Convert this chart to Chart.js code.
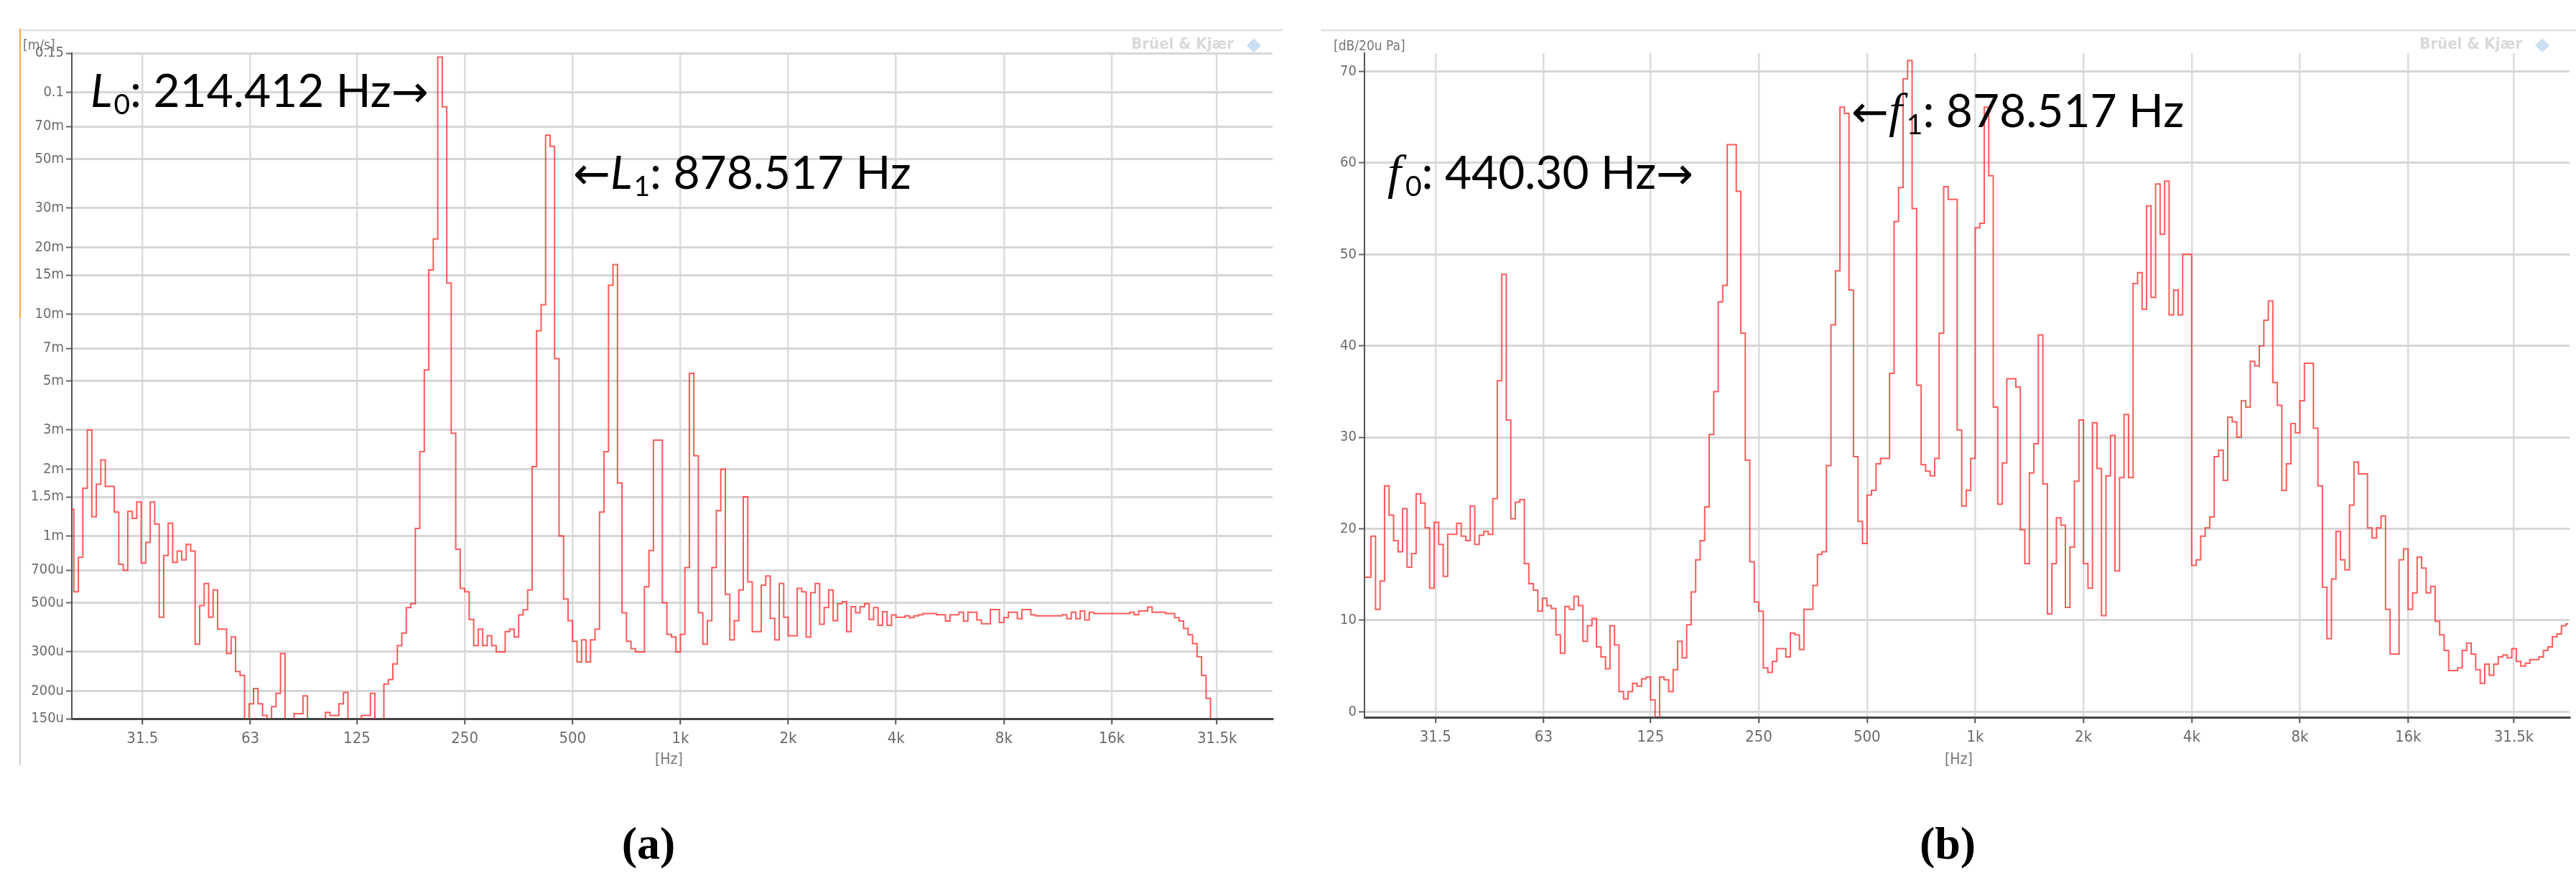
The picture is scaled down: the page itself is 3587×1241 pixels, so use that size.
<!DOCTYPE html>
<html>
<head>
<meta charset="utf-8">
<script src="https://cdn.jsdelivr.net/npm/chart.js@4.4.1/dist/chart.umd.min.js"></script>
<style>
  body { margin: 0; background: #fff; }
  #page { position: relative; width: 3587px; height: 1241px; overflow: hidden; background: #fff; }
  canvas { position: absolute; top: 0; }
  #chartA { left: 0; }
  #chartB { left: 1800px; }
  .caption { position: absolute; top: 1138px; line-height: 64px; font: bold 64px "Liberation Serif", serif; color: #000; transform: translateX(-50%); }
</style>
</head>
<body>
<div id="page">
  <canvas id="chartA" width="1790" height="1100"></canvas>
  <canvas id="chartB" width="1787" height="1100"></canvas>
  <div class="caption" style="left:903px">(a)</div>
  <div class="caption" style="left:2712px">(b)</div>
</div>
<script>
// x positions: 1/24-octave band centres of the analyser (20 Hz ... 44 kHz)
const bandCentres = [];
for (let k = -136; k < 132; k++) bandCentres.push(1000 * Math.pow(2, (k + 0.5) / 24));

const xTickValues = [31.5, 63, 125, 250, 500, 1000, 2000, 4000, 8000, 16000, 31500];
const xTickLabels = ["31.5", "63", "125", "250", "500", "1k", "2k", "4k", "8k", "16k", "31.5k"];

const velocityTicks = [150e-6, 200e-6, 300e-6, 500e-6, 700e-6, 1e-3, 1.5e-3, 2e-3, 3e-3, 5e-3, 7e-3, 10e-3, 15e-3, 20e-3, 30e-3, 50e-3, 70e-3, 0.1, 0.15];
const velocityTickLabels = ["150u", "200u", "300u", "500u", "700u", "1m", "1.5m", "2m", "3m", "5m", "7m", "10m", "15m", "20m", "30m", "50m", "70m", "0.1", "0.15"];

const levelTicks = [0, 10, 20, 30, 40, 50, 60, 70];
const levelTickLabels = ["0", "10", "20", "30", "40", "50", "60", "70"];

// (a) vibration velocity, m/s
const velocity = [
  1.32e-3, 5.6e-4, 8.0e-4, 1.64e-3, 3.0e-3, 1.22e-3, 1.71e-3, 2.2e-3, 1.67e-3, 1.67e-3,
  1.28e-3, 7.45e-4, 7.0e-4, 1.29e-3, 1.2e-3, 1.42e-3, 7.55e-4, 9.35e-4, 1.42e-3, 1.13e-3,
  4.3e-4, 8.15e-4, 1.14e-3, 7.6e-4, 8.55e-4, 7.8e-4, 9.15e-4, 8.55e-4, 3.25e-4, 4.85e-4,
  6.1e-4, 4.3e-4, 5.7e-4, 3.8e-4, 3.8e-4, 2.95e-4, 3.5e-4, 2.45e-4, 2.35e-4, 1.2e-4,
  1.75e-4, 2.05e-4, 1.75e-4, 1.55e-4, 1.2e-4, 1.7e-4, 1.95e-4, 2.95e-4, 1.2e-4, 1.2e-4,
  1.58e-4, 1.58e-4, 1.9e-4, 1.2e-4, 1.2e-4, 1.2e-4, 1.2e-4, 1.6e-4, 1.55e-4, 1.55e-4,
  1.75e-4, 1.97e-4, 1.2e-4, 1.2e-4, 1.2e-4, 1.55e-4, 1.55e-4, 1.95e-4, 1.2e-4, 1.2e-4,
  2.15e-4, 2.25e-4, 2.65e-4, 3.2e-4, 3.65e-4, 4.75e-4, 4.95e-4, 1.08e-3, 2.4e-3, 5.6e-3,
  1.58e-2, 2.18e-2, 0.144, 8.6e-2, 1.38e-2, 2.9e-3, 8.7e-4, 5.8e-4, 5.6e-4, 4.2e-4,
  3.2e-4, 3.8e-4, 3.2e-4, 3.55e-4, 3.2e-4, 3.0e-4, 3.0e-4, 3.7e-4, 3.8e-4, 3.5e-4,
  4.4e-4, 4.65e-4, 5.7e-4, 2.05e-3, 8.4e-3, 1.1e-2, 6.4e-2, 5.7e-2, 6.3e-3, 1.0e-3,
  5.2e-4, 4.15e-4, 3.35e-4, 2.7e-4, 3.4e-4, 2.7e-4, 3.4e-4, 3.8e-4, 1.28e-3, 2.4e-3,
  1.35e-2, 1.67e-2, 1.73e-3, 4.5e-4, 3.35e-4, 3.1e-4, 3.0e-4, 3.0e-4, 5.9e-4, 8.6e-4,
  2.7e-3, 2.7e-3, 5.0e-4, 3.6e-4, 3.5e-4, 3.0e-4, 3.6e-4, 7.2e-4, 5.4e-3, 2.3e-3,
  4.5e-4, 3.25e-4, 4.15e-4, 7.2e-4, 1.3e-3, 2.0e-3, 5.45e-4, 3.4e-4, 4.15e-4, 5.7e-4,
  1.5e-3, 6.2e-4, 3.7e-4, 3.7e-4, 6.0e-4, 6.6e-4, 4.25e-4, 3.4e-4, 6.1e-4, 4.3e-4,
  3.55e-4, 3.55e-4, 5.8e-4, 5.6e-4, 3.5e-4, 5.55e-4, 6.1e-4, 4.0e-4, 4.75e-4, 5.7e-4,
  4.15e-4, 4.95e-4, 5.05e-4, 3.7e-4, 4.8e-4, 4.5e-4, 4.8e-4, 4.95e-4, 4.2e-4, 4.75e-4,
  3.95e-4, 4.55e-4, 3.95e-4, 4.4e-4, 4.3e-4, 4.3e-4, 4.36e-4, 4.28e-4, 4.36e-4, 4.41e-4,
  4.47e-4, 4.47e-4, 4.47e-4, 4.41e-4, 4.41e-4, 4.13e-4, 4.41e-4, 4.41e-4, 4.53e-4, 4.13e-4,
  4.53e-4, 4.53e-4, 4.18e-4, 4.02e-4, 4.02e-4, 4.66e-4, 4.66e-4, 4.07e-4, 4.28e-4, 4.53e-4,
  4.53e-4, 4.23e-4, 4.66e-4, 4.66e-4, 4.41e-4, 4.36e-4, 4.36e-4, 4.36e-4, 4.36e-4, 4.36e-4,
  4.36e-4, 4.41e-4, 4.23e-4, 4.53e-4, 4.23e-4, 4.59e-4, 4.18e-4, 4.53e-4, 4.47e-4, 4.47e-4,
  4.47e-4, 4.47e-4, 4.47e-4, 4.47e-4, 4.47e-4, 4.47e-4, 4.53e-4, 4.41e-4, 4.59e-4, 4.59e-4,
  4.78e-4, 4.53e-4, 4.53e-4, 4.53e-4, 4.47e-4, 4.47e-4, 4.28e-4, 4.13e-4, 3.83e-4, 3.59e-4,
  3.27e-4, 2.85e-4, 2.35e-4, 1.85e-4, 1.2e-4, null, null, null, null, null,
  null, null, null, null, null, null, null, null
];

// (b) sound pressure level, dB re 20 uPa
const soundLevel = [
  14.7, 14.7, 19.2, 11.2, 14.3, 24.7, 21.5, 18.7, 17.5, 22.2,
  15.8, 17.3, 23.8, 22.8, 20.1, 13.5, 20.7, 18.3, 14.8, 19.4,
  19.4, 20.6, 19.2, 18.7, 22.5, 18.3, 19.3, 19.7, 19.4, 23.3,
  36.2, 47.8, 31.9, 21.1, 22.9, 23.2, 16.2, 14.0, 13.3, 11.0,
  12.4, 11.6, 11.3, 8.4, 6.4, 11.5, 11.2, 12.6, 11.6, 7.7,
  9.4, 10.2, 7.1, 6.0, 4.7, 9.4, 7.3, 2.2, 1.4, 2.2,
  3.1, 2.8, 3.6, 3.8, 1.3, -1.0, 3.8, 3.5, 2.2, 4.6,
  7.7, 5.9, 9.5, 13.1, 16.6, 18.7, 22.4, 30.3, 35.0, 44.8,
  46.6, 62.0, 62.0, 56.9, 41.4, 27.5, 16.4, 12.0, 11.0, 4.8,
  4.3, 5.5, 6.9, 6.9, 6.0, 8.6, 8.4, 6.8, 11.2, 11.2,
  13.8, 17.2, 17.5, 26.9, 42.3, 48.2, 66.1, 65.4, 46.1, 27.9,
  20.8, 18.4, 23.7, 24.2, 27.1, 27.7, 27.7, 37.0, 53.6, 57.3,
  69.2, 71.2, 55.0, 35.7, 27.0, 26.3, 25.8, 27.7, 41.4, 57.4,
  56.0, 56.0, 30.8, 22.5, 24.2, 27.7, 52.9, 53.4, 66.1, 58.6,
  33.3, 22.7, 27.2, 36.4, 36.4, 35.5, 19.9, 16.2, 26.1, 29.3,
  41.2, 24.9, 10.7, 16.2, 21.2, 20.4, 11.4, 18.0, 25.2, 31.9,
  16.2, 13.5, 31.6, 26.6, 10.5, 25.8, 30.2, 15.4, 25.6, 32.5,
  25.6, 46.8, 48.0, 44.0, 55.3, 45.3, 57.7, 52.2, 58.0, 43.4,
  46.1, 43.4, 50.0, 50.0, 16.0, 16.6, 19.2, 20.1, 21.3, 27.9,
  28.6, 25.3, 32.2, 31.7, 30.0, 34.0, 33.3, 38.3, 37.8, 40.0,
  42.8, 44.9, 36.0, 33.5, 24.2, 27.1, 31.5, 30.5, 34.0, 38.1,
  38.1, 31.0, 24.7, 13.6, 8.0, 14.5, 19.7, 16.6, 15.5, 22.6,
  27.3, 26.0, 26.0, 20.1, 19.0, 20.1, 21.4, 11.2, 6.3, 6.3,
  16.6, 17.8, 11.2, 13.0, 16.9, 15.7, 13.0, 13.7, 9.9, 8.4,
  6.7, 4.5, 4.5, 4.8, 6.7, 7.5, 6.3, 4.6, 3.1, 5.2,
  4.0, 5.2, 6.0, 6.2, 5.9, 6.9, 5.5, 5.0, 5.3, 5.7,
  5.7, 6.0, 6.7, 7.1, 8.2, 8.5, 9.4, 9.6
];

const tickFont = "'Liberation Sans Narrow', 'DejaVu Sans Condensed', Arial, sans-serif";
const bigFont = "64px Lato";
const symFont = "italic 64px Lato";
const subFont = "39px Lato";
const fFont = "italic 68px 'Liberation Serif'";
const arrowFont = "62px 'DejaVu Sans'";

function drawRich(ctx, x, y, parts) {
  ctx.textAlign = "left";
  ctx.textBaseline = "alphabetic";
  parts.forEach((p) => {
    ctx.font = p.font;
    ctx.fillText(p.text, x, y + (p.dy || 0));
    x += ctx.measureText(p.text).width + (p.gap || 0);
  });
}

function drawWatermark(ctx, right, base) {
  ctx.textBaseline = "alphabetic";
  ctx.font = "bold 22px " + tickFont;
  ctx.fillStyle = "#d9d9d9";
  ctx.textAlign = "right";
  ctx.fillText("Brüel & Kjær", right, base);
  ctx.font = "26px 'DejaVu Sans'";
  ctx.fillStyle = "#cadff4";
  ctx.textAlign = "left";
  ctx.fillText("◆", right + 18, base + 2);
}

const extrasA = {
  id: "extrasA",
  afterDraw(chart) {
    const ctx = chart.ctx;
    ctx.save();
    ctx.lineWidth = 3;
    ctx.strokeStyle = "#e4e4e4";
    ctx.beginPath(); ctx.moveTo(28, 42); ctx.lineTo(1786, 42); ctx.stroke();
    ctx.lineWidth = 2;
    ctx.strokeStyle = "#cfcfcf";
    ctx.beginPath(); ctx.moveTo(28, 40); ctx.lineTo(28, 1066); ctx.stroke();
    ctx.strokeStyle = "#f2a640";
    ctx.beginPath(); ctx.moveTo(28, 40); ctx.lineTo(28, 443); ctx.stroke();

    ctx.fillStyle = "#777";
    ctx.font = "19px " + tickFont;
    ctx.textAlign = "left";
    ctx.fillText("[m/s]", 32, 69);
    ctx.font = "21px " + tickFont;
    ctx.fillText("[Hz]", 912, 1064);
    drawWatermark(ctx, 1718, 68);

    ctx.fillStyle = "#000";
    drawRich(ctx, 126, 149, [
      { text: "L", font: symFont, gap: 2 },
      { text: "0", font: subFont, dy: 10 },
      { text: ": 214.412 Hz", font: bigFont },
      { text: "→", font: arrowFont },
    ]);
    drawRich(ctx, 798, 263, [
      { text: "←", font: arrowFont },
      { text: "L", font: symFont, gap: 2 },
      { text: "1", font: subFont, dy: 10 },
      { text: ": 878.517 Hz", font: bigFont },
    ]);
    ctx.restore();
  },
};

const extrasB = {
  id: "extrasB",
  afterDraw(chart) {
    const ctx = chart.ctx;
    ctx.save();
    ctx.lineWidth = 3;
    ctx.strokeStyle = "#e4e4e4";
    ctx.beginPath(); ctx.moveTo(40, 42); ctx.lineTo(1787, 42); ctx.stroke();

    ctx.fillStyle = "#777";
    ctx.font = "19px " + tickFont;
    ctx.textAlign = "left";
    ctx.fillText("[dB/20u Pa]", 57, 70);
    ctx.font = "21px " + tickFont;
    ctx.fillText("[Hz]", 908, 1064);
    drawWatermark(ctx, 1712, 68);

    ctx.fillStyle = "#000";
    drawRich(ctx, 132, 263, [
      { text: "f", font: fFont, gap: 6 },
      { text: "0", font: subFont, dy: 10 },
      { text: ": 440.30 Hz", font: bigFont },
      { text: "→", font: arrowFont },
    ]);
    drawRich(ctx, 778, 177, [
      { text: "←", font: arrowFont },
      { text: "f", font: fFont, gap: 6 },
      { text: "1", font: subFont, dy: 10 },
      { text: ": 878.517 Hz", font: bigFont },
    ]);
    ctx.restore();
  },
};

function xAxis() {
  return {
    type: "logarithmic",
    min: 20,
    max: 45000,
    afterBuildTicks: (s) => { s.ticks = xTickValues.map((v) => ({ value: v })); },
    afterFit: (s) => { s.height = 60; },
    ticks: {
      autoSkip: false,
      maxRotation: 0,
      color: "#6b6b6b",
      padding: 7,
      font: { family: tickFont, size: 22 },
      callback: (v, i) => xTickLabels[i],
    },
    grid: { color: "#dcdcdc", lineWidth: 2.5, tickLength: 8, tickColor: "#555", tickWidth: 2 },
    border: { color: "#444", width: 3 },
  };
}

function yAxis(type, min, max, tickValues, tickLabels) {
  return {
    type: type,
    min: min,
    max: max,
    afterBuildTicks: (s) => { s.ticks = tickValues.map((v) => ({ value: v })); },
    afterFit: (s) => { s.width = 100; },
    ticks: {
      autoSkip: false,
      color: "#6b6b6b",
      padding: 3,
      font: { family: tickFont, size: 20 },
      callback: (v, i) => tickLabels[i],
    },
    grid: {
      color: (c) => (c.tick && c.tick.value === min ? "rgba(0,0,0,0)" : "#d6d6d6"),
      lineWidth: 3,
      tickLength: 8,
      tickColor: "#666",
      tickWidth: 2,
    },
    border: { color: "#555", width: 2 },
  };
}

function spectrumChart(id, values, yScale, padding, extras) {
  return new Chart(document.getElementById(id), {
    type: "line",
    data: {
      datasets: [
        {
          data: values.map((v, i) => ({ x: bandCentres[i], y: v })),
          stepped: "middle",
          borderColor: "rgba(255, 45, 45, 0.78)",
          borderWidth: 2,
          pointRadius: 0,
          fill: false,
          spanGaps: false,
        },
      ],
    },
    options: {
      responsive: false,
      animation: false,
      devicePixelRatio: 1,
      layout: { padding: padding },
      plugins: {
        legend: { display: false },
        tooltip: { enabled: false },
      },
      scales: {
        x: xAxis(),
        y: yScale,
      },
    },
    plugins: [extras],
  });
}

function buildCharts() {
  spectrumChart(
    "chartA",
    velocity,
    yAxis("logarithmic", 1.5e-4, 0.15, velocityTicks, velocityTickLabels),
    { left: 0, top: 74, right: 18, bottom: 39 },
    extrasA
  );
  spectrumChart(
    "chartB",
    soundLevel,
    yAxis("linear", -0.6, 72, levelTicks, levelTickLabels),
    { left: 0, top: 74, right: 9, bottom: 41 },
    extrasB
  );
}

Promise.all([
  document.fonts.load(bigFont),
  document.fonts.load(symFont),
  document.fonts.load(fFont),
  document.fonts.load(arrowFont),
  document.fonts.load("22px 'Liberation Sans Narrow'"),
]).then(buildCharts, buildCharts);
</script>
</body>
</html>
